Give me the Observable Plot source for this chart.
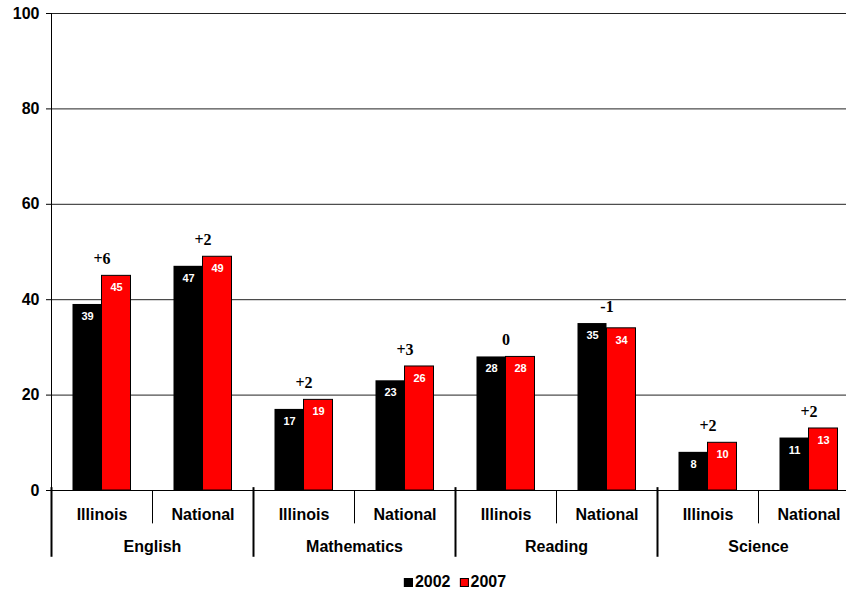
<!DOCTYPE html>
<html>
<head>
<meta charset="utf-8">
<script src="https://cdn.jsdelivr.net/npm/d3@7"></script>
<script src="https://cdn.jsdelivr.net/npm/@observablehq/plot@0.6"></script>
<style>
  html, body { margin: 0; padding: 0; background: #fff; }
  #wrap { position: relative; width: 846px; height: 590px; overflow: hidden; font-family: "Liberation Sans", Arial, sans-serif; }
  #chart { position: absolute; left: 0; top: 0; width: 859px; }
  #chart svg { max-width: none !important; }
  #legend { position: absolute; top: 572px; left: 455px; transform: translateX(-50%); display: flex; align-items: center; font-weight: bold; font-size: 16px; line-height: 20px; white-space: nowrap; }
  .sw { display: inline-block; width: 9px; height: 9px; border: 1px solid #000; box-sizing: border-box; margin-right: 2px; }
</style>
</head>
<body>
<div id="wrap">
  <div id="chart"></div>
  <div id="legend"></div>
</div>
<script>
const subjects = ["English", "Mathematics", "Reading", "Science"];
const regions = ["Illinois", "National"];
const v2002 = [39, 47, 17, 23, 28, 35, 8, 11];
const v2007 = [45, 49, 19, 26, 28, 34, 10, 13];
const diffLabels = ["+6", "+2", "+2", "+3", "0", "-1", "+2", "+2"];
const years = ["2002", "2007"];
const colors = ["#000000", "#ff0000"];
const yTicks = [0, 20, 40, 60, 80, 100];

const rows = [];
subjects.forEach((s, i) => regions.forEach((r, j) => {
  const k = i * regions.length + j;
  rows.push({subject: s, region: r, a: v2002[k], b: v2007[k], diff: diffLabels[k], top: Math.max(v2002[k], v2007[k])});
}));
const groupSeps = subjects.map(s => ({subject: s, region: regions[0]}));
const subSeps = subjects.map(s => ({subject: s, region: regions[1]}));

const half = 101 / 2;
const plot = Plot.plot({
  width: 859,
  height: 560,
  marginLeft: 51,
  marginRight: 0,
  marginTop: 13,
  marginBottom: 70,
  style: {fontFamily: "Liberation Sans, Arial, sans-serif", fontWeight: "bold", fontSize: "16px", color: "#000", background: "#fff", maxWidth: "none", overflow: "visible"},
  fx: {domain: subjects, padding: 0, label: null},
  x: {domain: regions, padding: 0, label: null},
  y: {domain: [0, 100], label: null},
  marks: [
    Plot.gridY(yTicks.filter(d => d > 0), {stroke: "#222", strokeOpacity: 1, strokeWidth: 1}),
    Plot.axisY({ticks: yTicks, tickSize: 5, tickPadding: 7, label: null, fontSize: 16, fontWeight: "bold"}),
    Plot.axisX({tickSize: 0, tickPadding: 18, fontSize: 16, fontWeight: "bold", label: null}),
    Plot.axisFx({anchor: "bottom", tickSize: 0, tickPadding: 50, fontSize: 16, fontWeight: "bold", label: null}),
    Plot.barY(rows, {fx: "subject", x: "region", y: "a", fill: colors[0], insetLeft: 21.5, insetRight: 50.5}),
    Plot.barY(rows, {fx: "subject", x: "region", y: "b", fill: colors[1], stroke: "#000", strokeWidth: 1, insetLeft: 50.5, insetRight: 21.5}),
    Plot.ruleY([0], {stroke: "#000", strokeWidth: 1}),
    Plot.ruleX(rows.filter(d => d.subject === subjects[0] && d.region === regions[0]), {fx: "subject", x: "region", y1: 0, y2: 100, dx: -half, stroke: "#000", strokeWidth: 1}),
    Plot.ruleX(groupSeps, {fx: "subject", x: "region", y1: 0.6, y2: -14, dx: -half, stroke: "#000", strokeWidth: 2}),
    Plot.ruleX(subSeps, {fx: "subject", x: "region", y1: 0, y2: -7, dx: -half, stroke: "#000", strokeWidth: 1}),
    Plot.text(rows, {fx: "subject", x: "region", y: "a", text: d => String(d.a), dx: -14.5, dy: 12, fill: "#fff", fontSize: 11, fontWeight: "bold", lineAnchor: "middle"}),
    Plot.text(rows, {fx: "subject", x: "region", y: "b", text: d => String(d.b), dx: 14.5, dy: 12, fill: "#fff", fontSize: 11, fontWeight: "bold", lineAnchor: "middle"}),
    Plot.text(rows, {fx: "subject", x: "region", y: "top", text: "diff", dy: -17, fill: "#000", fontSize: 16, fontWeight: "bold", fontFamily: "Liberation Serif, Times New Roman, serif", lineAnchor: "middle"})
  ]
});
document.getElementById("chart").appendChild(plot);

const legend = document.getElementById("legend");
years.forEach((y, i) => {
  const sw = document.createElement("span");
  sw.className = "sw";
  sw.style.background = colors[i];
  sw.style.marginLeft = i ? "9px" : "0";
  legend.appendChild(sw);
  const t = document.createElement("span");
  t.textContent = y;
  legend.appendChild(t);
});
</script>
</body>
</html>
